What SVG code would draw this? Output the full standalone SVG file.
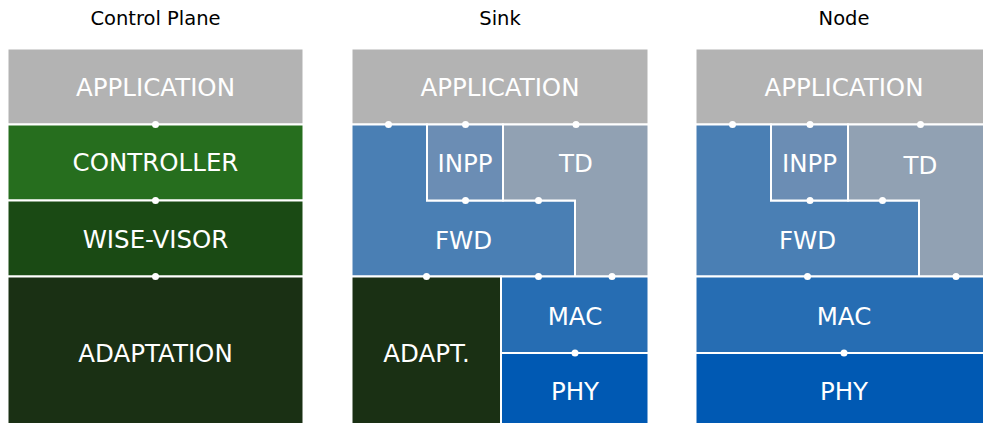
<svg xmlns="http://www.w3.org/2000/svg" width="983" height="423" viewBox="0 0 983 423">
<style>
.b{stroke:#fff;stroke-width:2}
.t{font-family:"DejaVu Sans",sans-serif;font-size:24.5px;fill:#fff;text-anchor:middle}
.h{font-family:"DejaVu Sans",sans-serif;font-size:19.5px;fill:#000;text-anchor:middle}
.app{fill:#b3b3b3}.ctl{fill:#266e1e}.wv{fill:#1a4a14}.ad{fill:#1a3014}
.fwd{fill:#4a7fb4}.inpp{fill:#6b8db4}.td{fill:#91a1b3}.mac{fill:#266db3}.phy{fill:#0059b3}
</style>
<rect width="983" height="423" fill="#fff"/>
<g id="titles">
<text class="h" x="155.5" y="25">Control Plane</text>
<text class="h" x="500" y="25">Sink</text>
<text class="h" x="844" y="25">Node</text>
</g>
<g id="cp-application"><rect class="b app" x="7.5" y="48.5" width="296" height="76"/><text class="t" x="155.5" y="95.5">APPLICATION</text></g>
<g id="cp-controller"><rect class="b ctl" x="7.5" y="124.5" width="296" height="76"/><text class="t" x="155.5" y="171">CONTROLLER</text></g>
<g id="cp-wisevisor"><rect class="b wv" x="7.5" y="200.5" width="296" height="76"/><text class="t" x="155.5" y="248">WISE-VISOR</text></g>
<g id="cp-adaptation"><rect class="b ad" x="7.5" y="276.5" width="296" height="160"/><text class="t" x="155.5" y="362">ADAPTATION</text></g>

<g id="sink-application"><rect class="b app" x="351.5" y="48.5" width="297" height="76"/><text class="t" x="500" y="95.5">APPLICATION</text></g>
<g id="sink-fwd"><path class="b fwd" d="M351.5 124.5H427V200.5H575V276.5H351.5Z"/><text class="t" x="463.5" y="248.5">FWD</text></g>
<g id="sink-inpp"><rect class="b inpp" x="427" y="124.5" width="76" height="76"/><text class="t" x="465" y="171.5">INPP</text></g>
<g id="sink-td"><path class="b td" d="M503 124.5H648.5V276.5H575V200.5H503Z"/><text class="t" x="576" y="172">TD</text></g>
<g id="sink-adapt"><rect class="b ad" x="351.5" y="276.5" width="149.5" height="160"/><text class="t" x="426.5" y="362">ADAPT.</text></g>
<g id="sink-mac"><rect class="b mac" x="501" y="276.5" width="147.5" height="76.5"/><text class="t" x="575" y="325">MAC</text></g>
<g id="sink-phy"><rect class="b phy" x="501" y="353" width="147.5" height="83"/><text class="t" x="575" y="400">PHY</text></g>

<g id="node-application"><rect class="b app" x="695.5" y="48.5" width="297" height="76"/><text class="t" x="844" y="95.5">APPLICATION</text></g>
<g id="node-fwd"><path class="b fwd" d="M695.5 124.5H771V200.5H919V276.5H695.5Z"/><text class="t" x="807.5" y="248.5">FWD</text></g>
<g id="node-inpp"><rect class="b inpp" x="771" y="124.5" width="77" height="76"/><text class="t" x="809.5" y="171.5">INPP</text></g>
<g id="node-td"><path class="b td" d="M848 124.5H992.5V276.5H919V200.5H848Z"/><text class="t" x="920.5" y="174">TD</text></g>
<g id="node-mac"><rect class="b mac" x="695.5" y="276.5" width="297" height="76.5"/><text class="t" x="844" y="325">MAC</text></g>
<g id="node-phy"><rect class="b phy" x="695.5" y="353" width="297" height="83"/><text class="t" x="844" y="400">PHY</text></g>

<g id="connectors" fill="#fff">
<circle cx="155.5" cy="124.5" r="3.5"/>
<circle cx="155.5" cy="200.5" r="3.5"/>
<circle cx="155.5" cy="276.5" r="3.5"/>
<circle cx="388.5" cy="124.5" r="3.5"/>
<circle cx="465.5" cy="124.5" r="3.5"/>
<circle cx="576" cy="124.5" r="3.5"/>
<circle cx="465.5" cy="200.5" r="3.5"/>
<circle cx="538.5" cy="200.5" r="3.5"/>
<circle cx="426.5" cy="276.5" r="3.5"/>
<circle cx="538.5" cy="276.5" r="3.5"/>
<circle cx="612" cy="276.5" r="3.5"/>
<circle cx="575" cy="353" r="3.5"/>
<circle cx="732.5" cy="124.5" r="3.5"/>
<circle cx="810" cy="124.5" r="3.5"/>
<circle cx="920.5" cy="124.5" r="3.5"/>
<circle cx="810" cy="200.5" r="3.5"/>
<circle cx="882.5" cy="200.5" r="3.5"/>
<circle cx="807.5" cy="276.5" r="3.5"/>
<circle cx="956" cy="276.5" r="3.5"/>
<circle cx="844" cy="353" r="3.5"/>
</g>
</svg>
